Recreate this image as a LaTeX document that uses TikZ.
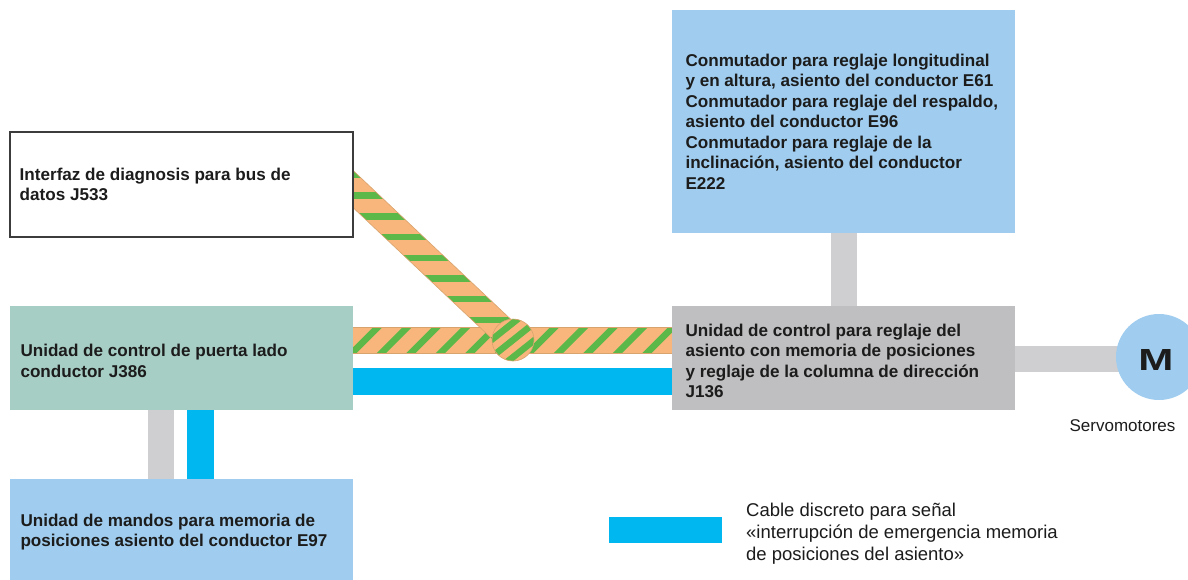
\documentclass[tikz,border=0pt]{standalone}
\usepackage{graphicx}
\usepackage{fontspec}
\setmainfont{Liberation Sans}
\setsansfont{Liberation Sans}
\usetikzlibrary{backgrounds}
\definecolor{txt}{HTML}{1C1C1C}
\definecolor{boxblue}{HTML}{A0CDEF}
\definecolor{boxteal}{HTML}{A7CEC4}
\definecolor{boxgray}{HTML}{BFBFC1}
\definecolor{cablegray}{HTML}{CFCFD1}
\definecolor{cableblue}{HTML}{00B8EF}
\definecolor{bandorange}{HTML}{F8B67C}
\definecolor{bandgreen}{HTML}{5CB848}
\definecolor{bandedge}{HTML}{D9A36E}
\definecolor{frame}{HTML}{3C3C3C}
\begin{document}
\begin{tikzpicture}[x=1pt,y=-1pt,
  box/.style={rectangle, inner sep=0pt, minimum width=343pt},
  boxtext/.style={anchor=west, inner sep=0pt, align=left, text=txt,
    font=\fontsize{17.1}{20.5}\selectfont\bfseries},
  graycable/.style={draw=cablegray, line width=26pt, line cap=butt},
  bluecable/.style={draw=cableblue, line width=27pt, line cap=butt},
  stripe/.style={draw=bandgreen, line width=6.5pt, line cap=butt},
  bandline/.style={draw=bandedge, line width=0.6pt},
  plain/.style={text=txt, align=left, inner sep=0pt}
]
\useasboundingbox (0,0) rectangle (1188,579);

% boxes
\node[box, draw=frame, line width=2pt, fill=white, minimum height=105pt] (j533) at (181.5,184.5) {};
\node[box, fill=boxteal, minimum height=104pt] (j386) at (181.5,358) {};
\node[box, fill=boxblue, minimum height=106pt] (e97) at (181.5,532) {};
\node[box, fill=boxblue, minimum height=223pt] (sw) at (843.5,121.5) {};
\node[box, fill=boxgray, minimum height=104pt] (j136) at (843.5,358) {};

% box texts
\node[boxtext] (t533) at ([xshift=10.5pt]j533.west)
  {Interfaz de diagnosis para bus de\\datos J533};
\node[boxtext] (t386) at ([xshift=10.5pt,yshift=-3pt]j386.west)
  {Unidad de control de puerta lado\\conductor J386};
\node[boxtext] (t97) at ([xshift=10.5pt]e97.west)
  {Unidad de mandos para memoria de\\posiciones asiento del conductor E97};
\node[boxtext] (tsw) at ([xshift=13.5pt]sw.west)
  {Conmutador para reglaje longitudinal\\y en altura, asiento del conductor E61\\Conmutador para reglaje del respaldo,\\asiento del conductor E96\\Conmutador para reglaje de la\\inclinación, asiento del conductor\\E222};
\node[boxtext] (t136) at ([xshift=13.5pt,yshift=-3pt]j136.west)
  {Unidad de control para reglaje del\\asiento con memoria de posiciones\\y reglaje de la columna de dirección\\J136};

% motor
\node[circle, fill=boxblue, minimum size=86pt, inner sep=0pt] (motor) at (1159,357) {};
\node[text=txt, inner sep=0pt, font=\fontsize{30.5}{30}\selectfont\bfseries] (mlabel) at (1156,360) {\scalebox{1.38}[1]{M}};
\node[plain, anchor=base, font=\fontsize{17}{20}\selectfont] (servo) at (1122.5,431) {Servomotores};

% legend
\node[fill=cableblue, minimum width=113pt, minimum height=26pt, inner sep=0pt] (legsample) at (665.5,530) {};
\node[plain, anchor=west, font=\fontsize{18.5}{22}\selectfont] (legtext) at (746,534)
  {Cable discreto para señal\\«interrupción de emergencia memoria\\de posiciones del asiento»};

% helper coordinates
\coordinate (gx) at (161,0);
\coordinate (bx) at (200.5,0);
\coordinate (by) at (0,381.5);
\coordinate (my) at (0,359);

\begin{scope}[on background layer]
\fill[white] (0,0) rectangle (1188,579);

% plain cables
\draw[graycable] (sw.south) -- (j136.north);
\draw[graycable] (j386.south -| gx) -- (e97.north -| gx);
\draw[bluecable] (j386.south -| bx) -- (e97.north -| bx);
\draw[bluecable] (j386.east |- by) -- (j136.west |- by);
\draw[graycable] (j136.east |- my) -- (motor.center |- my);

% striped horizontal band (CAN bus)
\begin{scope}
  \clip (353,327) rectangle (672,353);
  \fill[bandorange] (353,327) rectangle (672,353);
  \foreach \x in {365,394.5,...,700} {
    \draw[stripe] ({\x-16},356) -- ({\x+16},324);
  }
\end{scope}
\draw[bandline] (353,327) -- (672,327) (353,353) -- (672,353);

% striped diagonal band
\begin{scope}
  \clip (320.7,177.1) -- (339.3,157.5) -- (522.3,330.2) -- (503.7,349.8) -- cycle;
  \fill[bandorange] (300,140) rectangle (560,370);
  \foreach \k in {-2,...,9} {
    \draw[stripe] (300,{175+20.7*\k}) -- (560,{175+20.7*\k});
  }
\end{scope}
\draw[bandline] (339.3,157.5) -- (522.3,330.2) (320.7,177.1) -- (503.7,349.8);

% junction circle
\begin{scope}
  \clip (513,340) circle (21);
  \fill[bandorange] (513,340) circle (21);
  \foreach \o in {-13.5,0,13.5} {
    \draw[stripe] ({513+0.62*\o-0.78*30},{340+0.78*\o+0.62*30}) -- ({513+0.62*\o+0.78*30},{340+0.78*\o-0.62*30});
  }
\end{scope}
\draw[bandline] (513,340) circle (21);
\end{scope}
\end{tikzpicture}
\end{document}
